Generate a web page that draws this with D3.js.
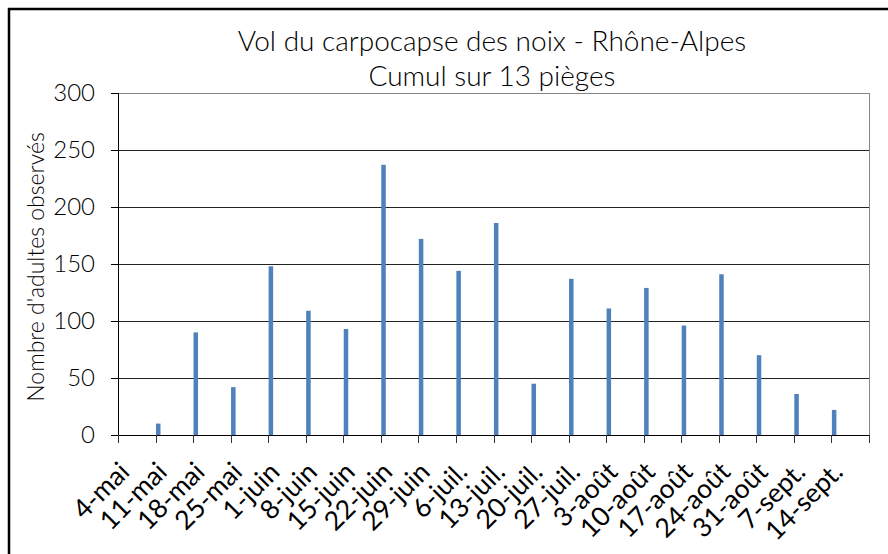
<!DOCTYPE html>
<head>
    <meta charset="utf-8">
    <title>Vol du carpocapse des noix</title>
<style>
    body {
        margin: 0;
        background: #fff;
    }

    .title, .ylabel, .ytick text {
        font-family: Lato, "Open Sans", sans-serif;
        font-weight: 300;
        fill: #000;
    }

    .title {
        font-size: 28px;
    }

    .ylabel {
        font-size: 23px;
    }

    .ytick text {
        font-size: 24px;
    }

    .xtick text {
        font-family: Lato, "Noto Sans", sans-serif;
        font-size: 26.5px;
        fill: #000;
    }
</style>
</head>
<body>
<script src="https://d3js.org/d3.v7.min.js"></script>
<script>

    // weekly trap counts, one entry per axis label (nothing caught the first week)
    var weeks = ["4-mai", "11-mai", "18-mai", "25-mai", "1-juin", "8-juin", "15-juin", "22-juin",
        "29-juin", "6-juil.", "13-juil.", "20-juil.", "27-juil.", "3-août", "10-août", "17-août",
        "24-août", "31-août", "7-sept.", "14-sept."];
    var counts = [null, 10, 90, 42, 148, 109, 93, 237, 172, 144, 186, 45, 137, 111, 129, 96,
        141, 70, 36, 22];
    var yTicks = [0, 50, 100, 150, 200, 250, 300];
    var firstDay = new Date(2013, 4, 4);

    var W = 888, H = 554;
    var margin = {top: 93, right: 19, bottom: 119, left: 118},
            width = W - margin.left - margin.right,
            height = H - margin.top - margin.bottom;

    var svg = d3.select("body").append("svg")
            .attr("width", W)
            .attr("height", H);

    // chart frame, runs off the bottom/right of the picture
    svg.append("rect")
        .attr("x", 9).attr("y", 9)
        .attr("width", W + 20).attr("height", H + 20)
        .attr("fill", "none")
        .attr("stroke", "#000")
        .attr("stroke-width", 2.5);

    var g = svg.append("g")
            .attr("transform", "translate(" + margin.left + "," + margin.top + ")");

    var dates = weeks.map((w, i) => d3.timeDay.offset(firstDay, i * 7));
    var lastDay = d3.timeDay.offset(firstDay, weeks.length * 7);

    const x = d3.scaleTime().domain([firstDay, lastDay]).range([0, width]);
    const y = d3.scaleLinear().domain([0, 300]).range([height, 0]);

    var dayW = x(d3.timeDay.offset(firstDay, 1)) - x(firstDay);
    var barW = dayW * 0.84;

    // gridlines
    g.selectAll(".grid")
        .data(yTicks.filter(t => t > 0 && t < 300))
        .join("line")
        .attr("class", "grid")
        .attr("shape-rendering", "crispEdges")
        .attr("x1", 0).attr("x2", width)
        .attr("y1", d => y(d)).attr("y2", d => y(d))
        .attr("stroke", "#222");

    // plot area border (top + right)
    g.append("path")
        .attr("shape-rendering", "crispEdges")
        .attr("d", "M0," + y(300) + "H" + width + "V" + y(0))
        .attr("fill", "none")
        .attr("stroke", "#868686");

    // bars
    var data = dates.map((d, i) => ({date: d, value: counts[i]})).filter(d => d.value != null);

    g.selectAll(".bar")
        .data(data)
        .join("rect")
        .attr("class", "bar")
        .attr("x", d => x(d.date) + (dayW - barW) / 2)
        .attr("width", barW)
        .attr("y", d => y(d.value))
        .attr("height", d => y(0) - y(d.value))
        .attr("fill", "#4F81BD");

    // y axis
    const yAxis = g.append("g")
        .attr("class", "ytick")
        .call(d3.axisLeft(y).tickValues(yTicks).tickSize(7).tickPadding(16));
    yAxis.select(".domain").attr("stroke", "#000").attr("shape-rendering", "crispEdges");
    yAxis.selectAll("line").attr("stroke", "#000").attr("shape-rendering", "crispEdges");

    // x axis
    const xAxis = g.append("g")
        .attr("class", "xtick")
        .attr("transform", "translate(0," + height + ")")
        .call(d3.axisBottom(x).tickValues(dates.concat([lastDay])).tickSize(8)
            .tickFormat((d, i) => weeks[i] || ""));
    xAxis.select(".domain").attr("stroke", "#000").attr("shape-rendering", "crispEdges");
    xAxis.selectAll("line").attr("stroke", "#333").attr("shape-rendering", "crispEdges");
    xAxis.selectAll("text")
        .attr("text-anchor", "end")
        .attr("y", 0)
        .attr("dy", "0.35em")
        .attr("transform", "translate(6,32) rotate(-45)");

    // titles
    svg.append("text")
        .attr("class", "title")
        .attr("text-anchor", "middle")
        .attr("x", 492).attr("y", 51)
        .text("Vol du carpocapse des noix - Rhône-Alpes");
    svg.append("text")
        .attr("class", "title")
        .attr("text-anchor", "middle")
        .attr("x", 492).attr("y", 86)
        .text("Cumul sur 13 pièges");

    svg.append("text")
        .attr("class", "ylabel")
        .attr("text-anchor", "middle")
        .attr("transform", "translate(44," + (margin.top + height / 2 + 3) + ") rotate(-90)")
        .text("Nombre d'adultes observés");
</script>
